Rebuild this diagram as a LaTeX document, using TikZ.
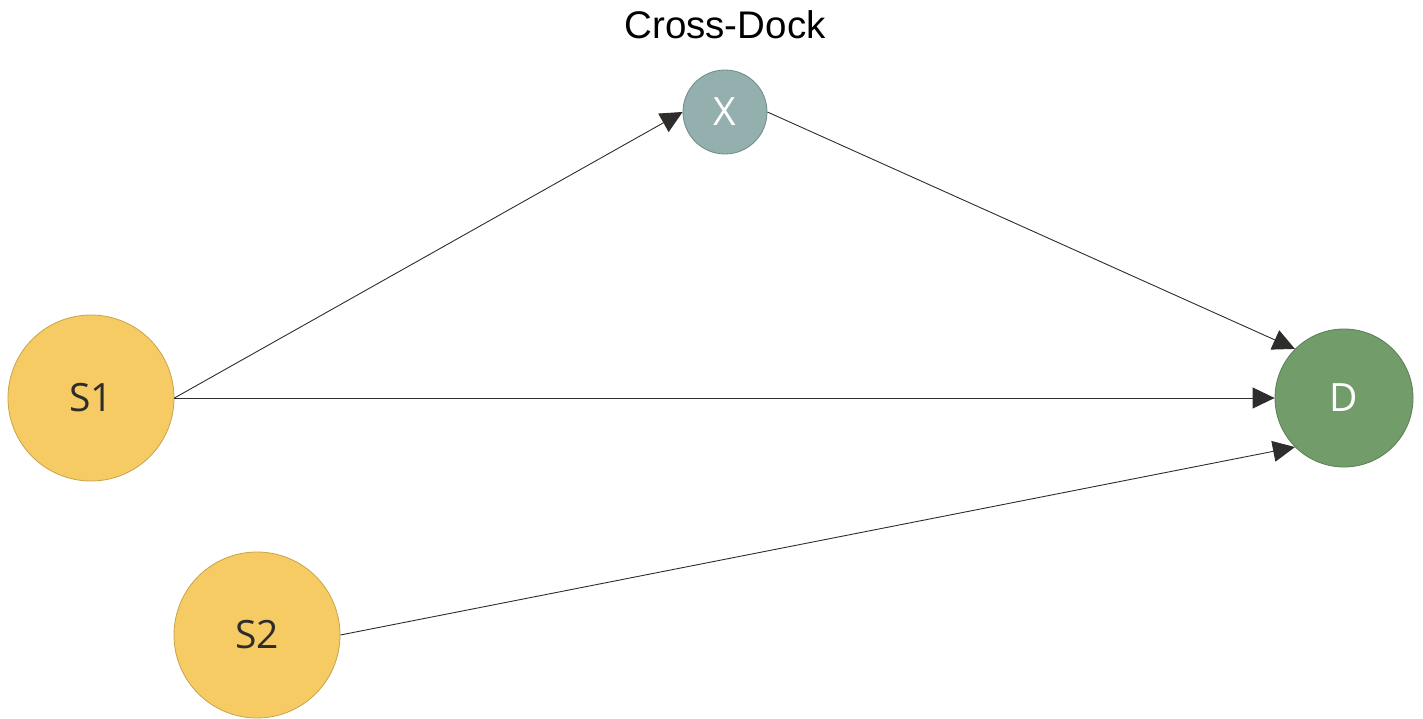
\documentclass[tikz,border=0pt]{standalone}
\usepackage{fontspec}
\setmainfont{Open Sans}
\newfontfamily\titlefont{Liberation Sans}
\usetikzlibrary{arrows.meta}
\definecolor{srcfill}{HTML}{F7CB64}
\definecolor{srcline}{HTML}{C9A24A}
\definecolor{xfill}{HTML}{93AFAE}
\definecolor{xline}{HTML}{6E8A88}
\definecolor{dfill}{HTML}{739C6B}
\definecolor{dline}{HTML}{5A7F54}
\definecolor{ink}{HTML}{2F2D2B}
\tikzset{
  hub/.style={circle, inner sep=0pt, line width=0.8pt, font=\fontsize{39}{45}\selectfont},
  source/.style={hub, fill=srcfill, draw=srcline, minimum size=166pt, text=ink},
  crossdock/.style={hub, fill=xfill, draw=xline, minimum size=84pt, text=white},
  dest/.style={hub, fill=dfill, draw=dline, minimum size=138pt, text=white},
  flow/.style={draw=ink, line width=0.9pt, -{Triangle[length=22pt,width=21pt]}},
}
\begin{document}
\begin{tikzpicture}[x=1pt,y=-1pt]
  \useasboundingbox (0,0) rectangle (1423,719);
  \node[source]    (s1) at (91,398)   {S1};
  \node[source]    (s2) at (257,635)  {S2};
  \node[crossdock] (x)  at (725,112)  {X};
  \node[dest]      (d)  at (1344,398) {D};
  \node[font=\titlefont\fontsize{38.5}{44}\selectfont] (title) at (725,25) {Cross-Dock};
  \draw[flow] (s1.east) -- (x.west);
  \draw[flow] (x.east) -- (d.north west);
  \draw[flow] (s1.east) -- (d.west);
  \draw[flow] (s2.east) -- (d.south west);
\end{tikzpicture}
\end{document}
